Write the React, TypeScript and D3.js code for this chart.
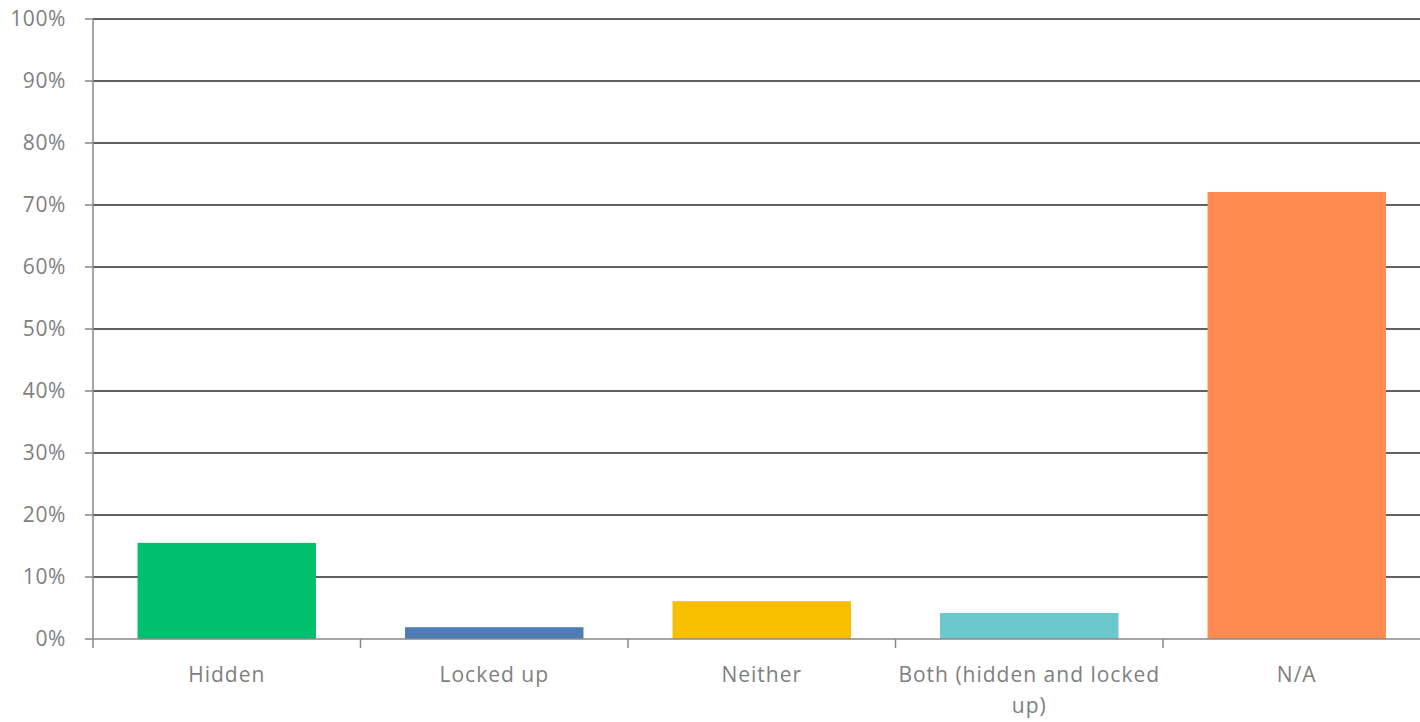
import React from "react";
import * as d3 from "d3";

const categories = ["Hidden", "Locked up", "Neither", "Both (hidden and locked up)", "N/A"];
const labelLines = [["Hidden"], ["Locked up"], ["Neither"], ["Both (hidden and locked", "up)"], ["N/A"]];
const values = [0.155, 0.019, 0.061, 0.042, 0.721];
const colors = ["#00BF6F", "#507CB6", "#F8BE00", "#6BC8CD", "#FF8B50"];
const yTicks = [0, 0.1, 0.2, 0.3, 0.4, 0.5, 0.6, 0.7, 0.8, 0.9, 1.0];

export default function App() {
  const W = 1420, H = 722;
  const left = 93, top = 19, bottom = 639;
  const x = d3.scaleBand<string>().domain(categories).range([left, left + 267.5 * 5]).paddingInner(0.333).paddingOuter(0.1665);
  const xb = d3.scaleBand<string>().domain(categories).range([left, left + 267.5 * 5]);
  const y = d3.scaleLinear().domain([0, 1]).range([bottom, top]);
  const font = "'Open Sans', 'Noto Sans', sans-serif";
  return (
    <svg width={W} height={H} style={{ position: "absolute", left: 0, top: 0, background: "#fff" }}>
      {yTicks.map((t) => (
        <g key={t}>
          {t > 0 && <line x1={left} x2={W} y1={y(t)} y2={y(t)} stroke="#2b2b2b" strokeWidth={1.5} />}
          <line x1={85} x2={left} y1={y(t)} y2={y(t)} stroke="#888" strokeWidth={1.5} />
          <text x={66} y={y(t)} dy="0.35em" textAnchor="end" fontFamily={font} fontSize={21} letterSpacing={0.6} fill="#7f7f7f">
            {d3.format(".0%")(t)}
          </text>
        </g>
      ))}
      {categories.map((c, i) => (
        <rect key={c} x={x(c)} y={y(values[i])} width={x.bandwidth()} height={bottom - y(values[i])} fill={colors[i]} />
      ))}
      <line x1={left} x2={left} y1={top} y2={648} stroke="#888" strokeWidth={1.5} />
      <line x1={left} x2={W} y1={bottom} y2={bottom} stroke="#888" strokeWidth={1.5} />
      {categories.map((c, i) => (
        <line key={"t" + c} x1={(xb(c) as number) + xb.bandwidth()} x2={(xb(c) as number) + xb.bandwidth()} y1={bottom} y2={648} stroke="#888" strokeWidth={1.5} />
      ))}
      {categories.map((c, i) => (
        <text key={"l" + c} x={(xb(c) as number) + xb.bandwidth() / 2} y={682} textAnchor="middle" fontFamily={font} fontSize={21} letterSpacing={1} fill="#7f7f7f">
          {labelLines[i].map((ln, j) => (
            <tspan key={j} x={(xb(c) as number) + xb.bandwidth() / 2} dy={j === 0 ? 0 : 31}>{ln}</tspan>
          ))}
        </text>
      ))}
    </svg>
  );
}
